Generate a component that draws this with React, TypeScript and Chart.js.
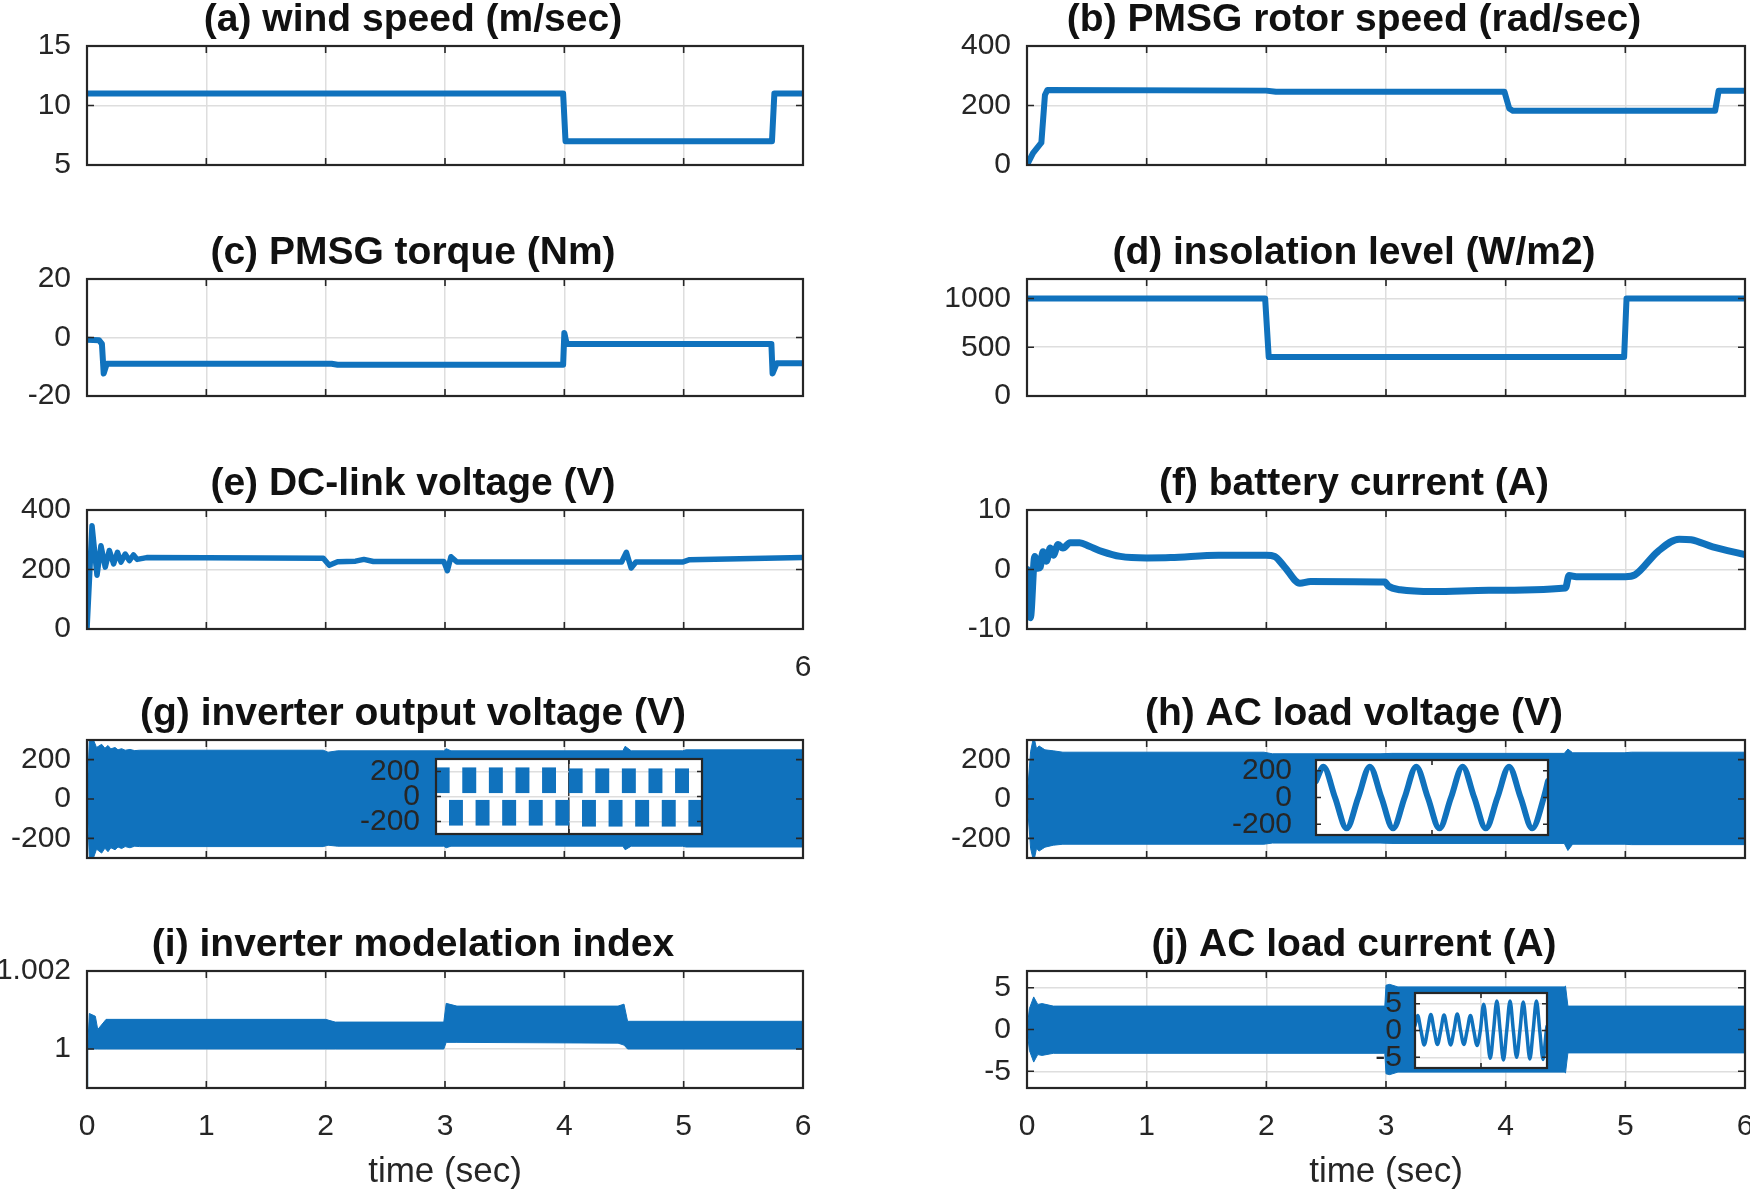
import React, { useEffect, useRef } from 'react';
import { Chart, registerables } from 'chart.js';

Chart.register(...registerables);

const BLUE = '#1072BD';
const INK = '#262626';
const GRID = '#DEDEDE';
const FONT = "'Liberation Sans', Arial, Helvetica, sans-serif";

// ---------- shared time axis ----------
const timeTicks = [0, 1, 2, 3, 4, 5, 6];

// ---------- (a) wind speed ----------
const windTicks = [5, 10, 15];
const windT = [0, 3.99, 4.01, 5.74, 5.76, 6];
const windV = [11, 11, 7, 7, 11, 11];

// ---------- (b) PMSG rotor speed ----------
const rotorTicks = [0, 200, 400];
const rotorT = [0, 0.05, 0.12, 0.15, 0.17, 2.0, 2.08, 3.99, 4.03, 4.06, 5.75, 5.78, 6];
const rotorV = [0, 40, 75, 235, 252, 250, 246, 246, 190, 182, 182, 250, 250];

// ---------- (c) PMSG torque ----------
const torqueTicks = [-20, 0, 20];
const torqueT = [0, 0.1, 0.125, 0.14, 0.165, 2.05, 2.1, 3.99, 4.0, 4.02, 5.735, 5.745, 5.78, 6];
const torqueV = [-0.8, -0.9, -2.2, -12.3, -9.0, -9.0, -9.3, -9.3, 1.5, -2.2, -2.2, -12.3, -8.8, -8.8];

// ---------- (d) insolation ----------
const insolTicks = [0, 500, 1000];
const insolT = [0, 1.99, 2.02, 4.99, 5.01, 6];
const insolV = [1000, 1000, 400, 400, 1000, 1000];

// ---------- (e) DC-link voltage ----------
const dcTicks = [0, 200, 400];
const dcT = [0, 0.042, 0.084, 0.117, 0.153, 0.187, 0.223, 0.255, 0.285, 0.32, 0.355, 0.39, 0.42, 0.5, 1.98, 2.03, 2.1, 2.25, 2.32, 2.4, 2.99, 3.02, 3.05, 3.1, 4.48, 4.52, 4.56, 4.6, 4.99, 5.05, 6];
const dcV = [0, 347, 181, 280, 208, 264, 219, 258, 225, 252, 230, 249, 234, 240, 238, 214, 226, 228, 234, 227, 227, 196, 243, 225, 225, 258, 205, 225, 225, 233, 240];

// ---------- (f) battery current ----------
const battTicks = [-10, 0, 10];
const battT = [0, 0.028, 0.065, 0.092, 0.11, 0.134, 0.162, 0.195, 0.22, 0.26, 0.3, 0.36, 0.44, 0.52, 0.63, 0.78, 1.0, 1.2, 1.6, 2.0, 2.07, 2.15, 2.28, 2.37, 2.99, 3.02, 3.12, 3.4, 3.86, 4.5, 4.53, 4.59, 5.0, 5.08, 5.27, 5.45, 5.55, 5.73, 6.0];
const battV = [0, -8.1, 2.2, 0.2, 0.4, 3.0, 1.4, 3.6, 2.4, 4.2, 3.6, 4.5, 4.5, 3.9, 3.0, 2.2, 1.95, 2.0, 2.4, 2.4, 2.2, 0.5, -2.3, -2.0, -2.1, -2.8, -3.4, -3.7, -3.5, -3.1, -1.0, -1.2, -1.2, -0.9, 3.0, 5.1, 5.0, 3.8, 2.5];

// ---------- (g) inverter output voltage (envelope) ----------
const invTicks = [-200, 0, 200];
const invT = [0, 0.02, 0.048, 0.08, 0.123, 0.15, 0.176, 0.2, 0.235, 0.26, 0.29, 0.32, 0.36, 0.4, 0.44, 1.98, 2.02, 2.1, 2.99, 3.01, 3.05, 4.49, 4.51, 4.56, 4.99, 5.02, 6];
const invHi = [0, 300, 310, 262, 278, 258, 272, 255, 262, 250, 256, 248, 252, 246, 248, 248, 238, 245, 245, 256, 245, 245, 268, 245, 245, 250, 250];
const invLo = [0, -300, -310, -255, -275, -250, -268, -248, -258, -244, -252, -242, -248, -240, -242, -242, -235, -240, -240, -248, -240, -240, -258, -240, -240, -244, -244];

// inset (g): PWM blocks, half-cycle slots around t = 2 s
const insetGTicks = [-200, 0, 200];
const insetGTimeTicks = [1.9, 2.0, 2.1];
const insetGT = [1.905, 1.915, 1.925, 1.935, 1.945, 1.955, 1.965, 1.975, 1.985, 1.995, 2.005, 2.015, 2.025, 2.035, 2.045, 2.055, 2.065, 2.075, 2.085, 2.095];
const insetGHi = [230, -30, 230, -30, 230, -30, 230, -30, 230, -30, 222, -30, 222, -30, 222, -30, 222, -30, 222, -30];
const insetGLo = [30, -230, 30, -230, 30, -230, 30, -230, 30, -230, 30, -238, 30, -238, 30, -238, 30, -238, 30, -238];

// ---------- (h) AC load voltage (envelope) ----------
const loadVTicks = [-200, 0, 200];
const loadVT = [0, 0.03, 0.056, 0.08, 0.1, 0.15, 0.22, 0.3, 1.98, 2.05, 2.95, 3.05, 4.49, 4.52, 4.56, 4.99, 5.05, 6];
const loadVHi = [0, 240, 320, 255, 270, 250, 245, 238, 238, 230, 230, 232, 232, 254, 235, 235, 238, 238];
const loadVLo = [0, -250, -320, -250, -265, -245, -235, -230, -230, -224, -224, -226, -226, -262, -230, -230, -232, -232];

// inset (h): five cycles of the load voltage
const insetHTicks = [-200, 0, 200];
const insetHTimeTicks = [0, 0.05, 0.1];
const insetHT = [0, 0.0032, 0.0082, 0.0132, 0.0182, 0.0232, 0.0282, 0.0332, 0.0382, 0.0432, 0.0482, 0.0532, 0.0582, 0.0632, 0.0682, 0.0732, 0.0782, 0.0832, 0.0882, 0.0932, 0.0982, 0.1];
const insetHV = [123, 230, 0, -230, 0, 230, 0, -230, 0, 230, 0, -230, 0, 230, 0, -230, 0, 230, 0, -230, 0, 123];

// ---------- (i) modulation index (envelope) ----------
const modTicks = [1, 1.002];
const modT = [0, 0.005, 0.02, 0.07, 0.09, 0.16, 2.0, 2.08, 2.99, 3.01, 3.1, 4.45, 4.5, 4.53, 6];
const modHi = [0.999, 1.0, 1.00091, 1.00084, 1.0005, 1.00076, 1.00076, 1.00069, 1.00069, 1.00117, 1.0011, 1.0011, 1.00115, 1.00071, 1.00071];
const modLo = [0.999, 1.0, 1.0, 1.0, 1.0, 1.0, 1.0, 1.0, 1.0, 1.00017, 1.00017, 1.00015, 1.0001, 1.0, 1.0];

// ---------- (j) AC load current (envelope) ----------
const curTicks = [-5, 0, 5];
const curT = [0, 0.02, 0.056, 0.09, 0.126, 0.22, 2.99, 3.0, 3.03, 3.1, 4.49, 4.5, 4.52, 6];
const curHi = [0, 2.5, 3.9, 3.0, 3.1, 2.8, 2.8, 5.3, 5.4, 5.1, 5.1, 5.2, 2.8, 2.8];
const curLo = [0, -2.5, -3.9, -3.0, -3.1, -2.85, -2.85, -5.3, -5.4, -5.1, -5.1, -5.2, -2.8, -2.8];

// inset (j): ten cycles around t = 3 s
const insetJTicks = [-5, 0, 5];
const insetJTimeTicks = [0, 0.1, 0.2];
const insetJT = [0, 0.004, 0.009, 0.014, 0.019, 0.024, 0.029, 0.034, 0.039, 0.044, 0.049, 0.054, 0.059, 0.064, 0.069, 0.074, 0.079, 0.084, 0.089, 0.094, 0.099, 0.104, 0.109, 0.114, 0.119, 0.124, 0.129, 0.134, 0.139, 0.144, 0.149, 0.154, 0.159, 0.164, 0.169, 0.174, 0.179, 0.184, 0.189, 0.194, 0.199, 0.2];
const insetJV = [0.9, 2.8, 0, -2.7, 0, 3.0, 0, -2.6, 0, 2.9, 0, -2.7, 0, 3.1, 0, -2.6, 0, 2.8, 0, -2.8, 0, 4.9, 0, -5.2, 0, 5.5, 0, -5.5, 0, 5.5, 0, -5.0, 0, 5.3, 0, -5.3, 0, 5.5, 0, -5.4, 0, 0.8];

// ---------- layout ----------
const PAGE_W = 1750;
const PAGE_H = 1193;
const PLOT_TOP = [46, 279, 510, 740, 971];
const PLOT_BOTTOM = [165, 396, 629, 858, 1088];
const PLOT_LEFT = [87, 1027];
const PLOT_RIGHT = [803, 1745];
const CANVAS_LEFT = [0, 940];
const CANVAS_RIGHT = [828, 1772];
const TITLE_PAD_LEFT = [23, 23];
const TITLE_LINE = 44;
const TITLE_H = 48;
const TICK_FONT = 30;

const pts = (t: number[], v: number[]) => t.map((x, i) => ({ x, y: v[i] }));

const lineDs = (t: number[], v: number[], w = 6) => ({
  data: pts(t, v),
  borderColor: BLUE,
  backgroundColor: BLUE,
  borderWidth: w,
  pointRadius: 0,
  tension: 0,
  fill: false,
  borderJoinStyle: 'round',
  borderCapStyle: 'round',
});

const bandDs = (t: number[], hi: number[], lo: number[]) => [
  { data: pts(t, hi), borderColor: BLUE, backgroundColor: BLUE, borderWidth: 1, pointRadius: 0, tension: 0, fill: false },
  { data: pts(t, lo), borderColor: BLUE, backgroundColor: BLUE, borderWidth: 1, pointRadius: 0, tension: 0, fill: '-1' },
];

// MATLAB-like box: white plot background (insets), inner tick marks and a full frame.
// It also lets the y tick labels use the whole left margin of the canvas.
const boxPlugin = {
  id: 'matlabBox',
  afterLayout(chart: any) {
    if (chart.scales && chart.scales.y) chart.scales.y.left = 0;
  },
  beforeDraw(chart: any, _a: any, opts: any) {
    if (opts && opts.fill) {
      const a = chart.chartArea;
      const ctx = chart.ctx;
      ctx.save();
      ctx.fillStyle = opts.fill;
      ctx.fillRect(a.left, a.top, a.right - a.left, a.bottom - a.top);
      ctx.restore();
    }
  },
  afterDatasetsDraw(chart: any, _a: any, opts: any) {
    const { ctx, chartArea: a, scales } = chart;
    const tl = (opts && opts.tick) || 7;
    ctx.save();
    ctx.strokeStyle = INK;
    ctx.lineWidth = 1.6;
    ctx.beginPath();
    for (const t of scales.x.ticks) {
      const p = scales.x.getPixelForValue(t.value);
      ctx.moveTo(p, a.top);
      ctx.lineTo(p, a.top + tl);
      ctx.moveTo(p, a.bottom);
      ctx.lineTo(p, a.bottom - tl);
    }
    for (const t of scales.y.ticks) {
      const p = scales.y.getPixelForValue(t.value);
      ctx.moveTo(a.left, p);
      ctx.lineTo(a.left + tl, p);
      ctx.moveTo(a.right, p);
      ctx.lineTo(a.right - tl, p);
    }
    ctx.stroke();
    ctx.lineWidth = 2.2;
    ctx.strokeRect(a.left, a.top, a.right - a.left, a.bottom - a.top);
    ctx.restore();
  },
};

type Spec = { key: string; box: { x: number; y: number; w: number; h: number }; make: () => any };

const noLabel = (_v: number) => '';
const allLabels = (v: number) => String(v);
const lastLabel = (v: number) => (v === 6 ? '6' : '');

function mainSpec(
  key: string, col: number, row: number, title: string,
  yMin: number, yMax: number, yTicks: number[],
  makeDatasets: () => any[], xLabel: (v: number) => string, xTitle?: string
): Spec {
  const plotTop = PLOT_TOP[row];
  const plotBottom = PLOT_BOTTOM[row];
  const xAxisH = row === 4 ? PAGE_H - plotBottom : 60;
  const left = CANVAS_LEFT[col];
  const right = CANVAS_RIGHT[col];
  const padL = TITLE_PAD_LEFT[col];
  const yW = PLOT_LEFT[col] - left - padL;
  const rPad = right - PLOT_RIGHT[col];
  const box = { x: left, y: plotTop - TITLE_H, w: right - left, h: TITLE_H + plotBottom - plotTop + xAxisH };
  const make = () => ({
    type: 'line',
    data: { datasets: makeDatasets() },
    options: {
      responsive: false,
      animation: false,
      devicePixelRatio: 1,
      layout: { padding: { left: padL, right: rPad, top: 0, bottom: 0 } },
      plugins: {
        legend: { display: false },
        tooltip: { enabled: false },
        title: {
          display: true,
          text: title,
          color: '#111111',
          font: { family: FONT, size: 39, weight: 'bold', lineHeight: TITLE_LINE + 'px' },
          padding: { top: 0, bottom: TITLE_H - TITLE_LINE },
        },
        matlabBox: { tick: 7 },
      },
      scales: {
        x: {
          type: 'linear',
          min: 0,
          max: 6,
          afterBuildTicks: (s: any) => { s.ticks = timeTicks.map((v) => ({ value: v })); },
          afterFit: (s: any) => { s.height = xAxisH; s.paddingLeft = 0; s.paddingRight = 0; },
          grid: { color: GRID, lineWidth: 1.5, drawTicks: false },
          border: { display: false },
          ticks: {
            autoSkip: false, maxRotation: 0, minRotation: 0, padding: 21, color: INK,
            font: { family: FONT, size: TICK_FONT },
            callback: (v: any) => xLabel(Number(v)),
          },
          title: xTitle
            ? { display: true, text: xTitle, color: INK, font: { family: FONT, size: 35 }, padding: { top: 0, bottom: 0 } }
            : { display: false },
        },
        y: {
          type: 'linear',
          min: yMin,
          max: yMax,
          afterBuildTicks: (s: any) => { s.ticks = yTicks.map((v) => ({ value: v })); },
          afterFit: (s: any) => { s.width = yW; s.paddingTop = 0; s.paddingBottom = 0; },
          grid: { color: GRID, lineWidth: 1.5, drawTicks: false },
          border: { display: false },
          ticks: {
            autoSkip: false, padding: 16, color: INK,
            font: { family: FONT, size: TICK_FONT },
            callback: (v: any) => String(v),
          },
        },
      },
    },
    plugins: [boxPlugin],
  });
  return { key, box, make };
}

function insetSpec(
  key: string, plot: { l: number; t: number; r: number; b: number }, yW: number, gap: number,
  yMin: number, yMax: number, yTicks: number[],
  xMin: number, xMax: number, xTicks: number[],
  type: string, makeDatasets: () => any[], xGrid: string | null, yGrid: string | null
): Spec {
  const pad = 4;
  const rPad = 6;
  const box = { x: plot.l - yW, y: plot.t - pad, w: yW + plot.r - plot.l + rPad, h: plot.b - plot.t + 2 * pad };
  const make = () => ({
    type,
    data: { datasets: makeDatasets() },
    options: {
      responsive: false,
      animation: false,
      devicePixelRatio: 1,
      layout: { padding: { left: 0, right: rPad, top: pad, bottom: pad } },
      plugins: {
        legend: { display: false },
        tooltip: { enabled: false },
        title: { display: false },
        matlabBox: { tick: 5, fill: '#ffffff' },
      },
      scales: {
        x: {
          type: 'linear',
          min: xMin,
          max: xMax,
          offset: false,
          afterBuildTicks: (s: any) => { s.ticks = xTicks.map((v) => ({ value: v })); },
          afterFit: (s: any) => { s.height = 0; s.paddingLeft = 0; s.paddingRight = 0; },
          grid: xGrid ? { color: xGrid, lineWidth: 1.5, drawTicks: false, offset: false } : { display: false, offset: false },
          border: { display: false },
          ticks: { display: false },
        },
        y: {
          type: 'linear',
          min: yMin,
          max: yMax,
          afterBuildTicks: (s: any) => { s.ticks = yTicks.map((v) => ({ value: v })); },
          afterFit: (s: any) => { s.width = yW; s.paddingTop = 0; s.paddingBottom = 0; },
          grid: yGrid ? { color: yGrid, lineWidth: 1.5, drawTicks: false } : { display: false },
          border: { display: false },
          ticks: {
            autoSkip: false, padding: gap, color: INK,
            font: { family: FONT, size: TICK_FONT },
            callback: (v: any) => String(v),
          },
        },
      },
    },
    plugins: [boxPlugin],
  });
  return { key, box, make };
}

const specs: Spec[] = [
  mainSpec('a', 0, 0, '(a) wind speed (m/sec)', 5, 15, windTicks, () => [lineDs(windT, windV)], noLabel),
  mainSpec('b', 1, 0, '(b) PMSG rotor speed (rad/sec)', 0, 400, rotorTicks, () => [lineDs(rotorT, rotorV)], noLabel),
  mainSpec('c', 0, 1, '(c) PMSG torque (Nm)', -20, 20, torqueTicks, () => [lineDs(torqueT, torqueV)], noLabel),
  mainSpec('d', 1, 1, '(d) insolation level (W/m2)', 0, 1200, insolTicks, () => [lineDs(insolT, insolV)], noLabel),
  mainSpec('e', 0, 2, '(e) DC-link voltage (V)', 0, 400, dcTicks, () => [lineDs(dcT, dcV, 5.5)], lastLabel),
  mainSpec('f', 1, 2, '(f) battery current (A)', -10, 10, battTicks,
    () => [{ ...lineDs(battT, battV, 7), cubicInterpolationMode: 'monotone' }], noLabel),
  mainSpec('g', 0, 3, '(g) inverter output voltage (V)', -300, 300, invTicks, () => bandDs(invT, invHi, invLo), noLabel),
  mainSpec('h', 1, 3, '(h) AC load voltage (V)', -300, 300, loadVTicks, () => bandDs(loadVT, loadVHi, loadVLo), noLabel),
  mainSpec('i', 0, 4, '(i) inverter modelation index', 0.999, 1.002, modTicks, () => bandDs(modT, modHi, modLo), allLabels, 'time (sec)'),
  mainSpec('j', 1, 4, '(j) AC load current (A)', -7, 7, curTicks, () => bandDs(curT, curHi, curLo), allLabels, 'time (sec)'),
  insetSpec('gi', { l: 436, t: 759, r: 702, b: 834 }, 90, 16, -300, 300, insetGTicks, 1.9, 2.1, insetGTimeTicks, 'bar',
    () => [{
      data: insetGT.map((t, i) => ({ x: t, y: [insetGLo[i], insetGHi[i]] })),
      backgroundColor: BLUE, borderWidth: 0, barPercentage: 1, categoryPercentage: 1, grouped: false,
    }], '#3a3a3a', GRID),
  insetSpec('hi', { l: 1316, t: 760, r: 1548, b: 835 }, 100, 16, -280, 280, insetHTicks, 0, 0.1, insetHTimeTicks, 'line',
    () => [{ ...lineDs(insetHT, insetHV, 6), cubicInterpolationMode: 'monotone' }], null, null),
  insetSpec('ji', { l: 1415, t: 993, r: 1547, b: 1068 }, 60, 13, -7, 7, insetJTicks, 0, 0.2, insetJTimeTicks, 'line',
    () => [{ ...lineDs(insetJT, insetJV, 3.5), cubicInterpolationMode: 'monotone' }], GRID, GRID),
];

function ChartCanvas({ spec }: { spec: Spec }) {
  const ref = useRef<HTMLCanvasElement | null>(null);
  useEffect(() => {
    if (!ref.current) return;
    const chart = new Chart(ref.current, spec.make());
    return () => chart.destroy();
  }, [spec]);
  const { x, y, w, h } = spec.box;
  return (
    <canvas
      ref={ref}
      width={w}
      height={h}
      style={{ position: 'absolute', left: x, top: y, width: w, height: h }}
    />
  );
}

export default function App() {
  return (
    <div
      style={{
        position: 'absolute',
        left: 0,
        top: 0,
        width: PAGE_W,
        height: PAGE_H,
        overflow: 'hidden',
        background: '#ffffff',
      }}
    >
      {specs.map((s) => (
        <ChartCanvas key={s.key} spec={s} />
      ))}
    </div>
  );
}
